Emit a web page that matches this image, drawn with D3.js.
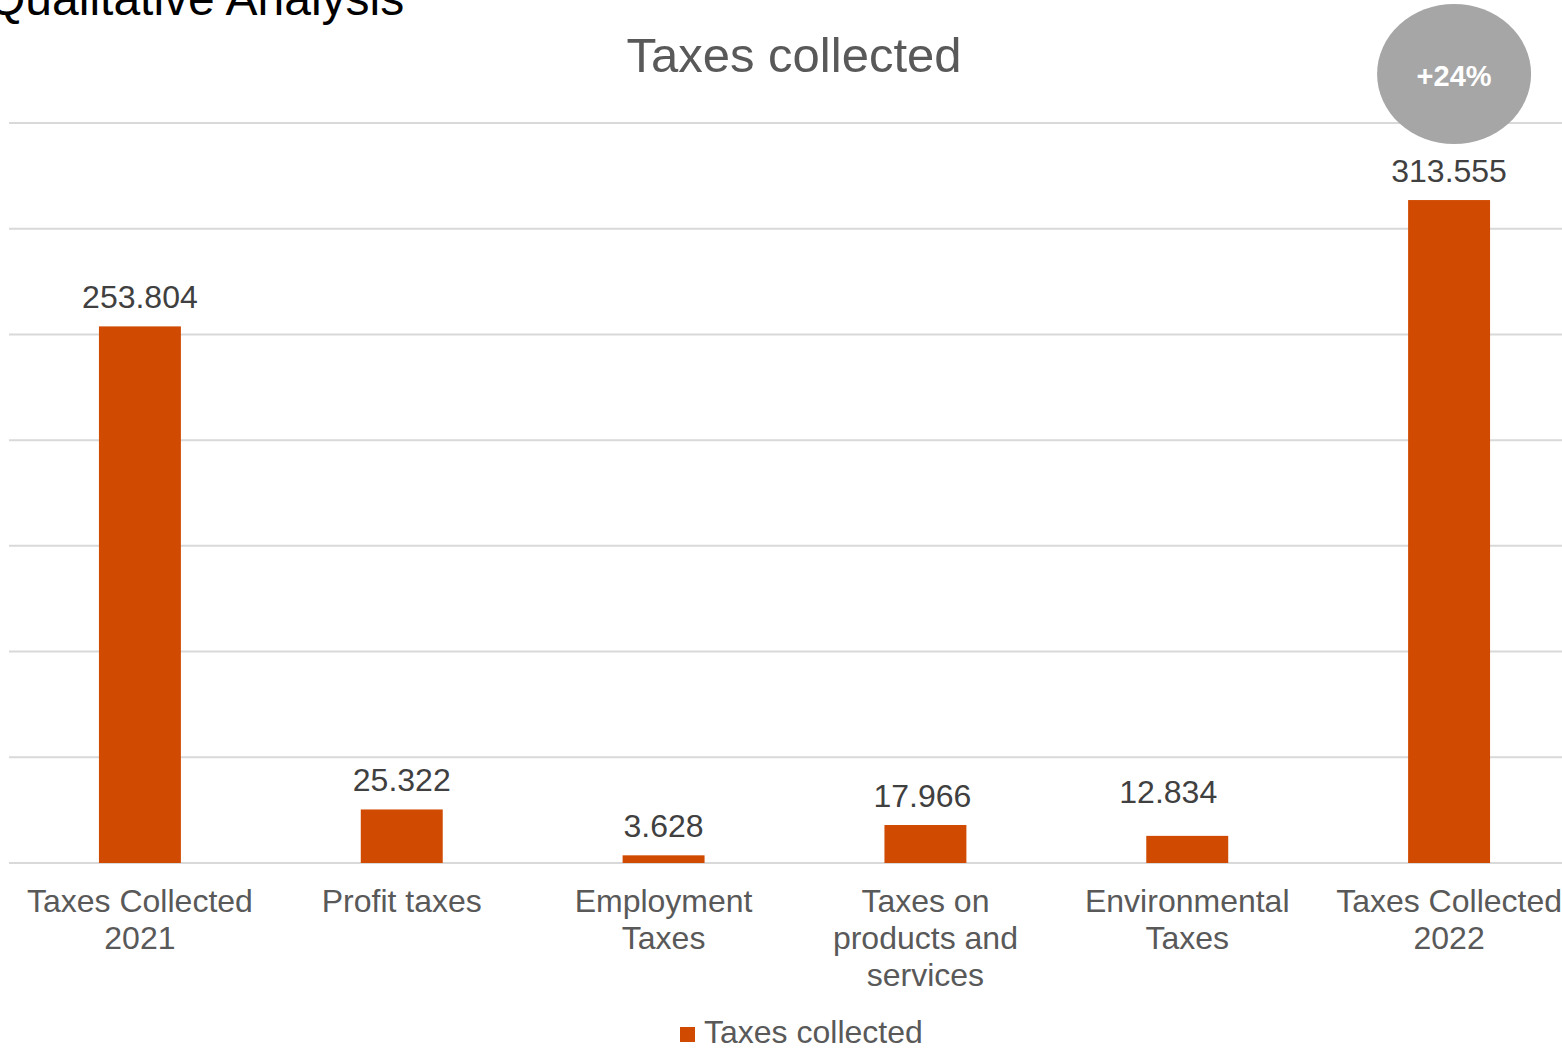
<!DOCTYPE html>
<html>
<head>
<meta charset="utf-8">
<script src="https://cdn.jsdelivr.net/npm/d3@7"></script>
<style>
  html, body { margin: 0; padding: 0; background: #ffffff; overflow: hidden; }
  svg { display: block; font-family: "Liberation Sans", Arial, sans-serif; }
</style>
</head>
<body>
<svg id="chart" width="1562" height="1050"></svg>
<script>
// Tax categories, values (thousands) and wrapped axis labels
const categories = ["Taxes Collected 2021", "Profit taxes", "Employment Taxes",
  "Taxes on products and services", "Environmental Taxes", "Taxes Collected 2022"];
const values = [253.804, 25.322, 3.628, 17.966, 12.834, 313.555];
const tickLabels = [
  ["Taxes Collected", "2021"],
  ["Profit taxes"],
  ["Employment", "Taxes"],
  ["Taxes on", "products and", "services"],
  ["Environmental", "Taxes"],
  ["Taxes Collected", "2022"]
];
const yTicks = [0, 50, 100, 150, 200, 250, 300, 350];
const seriesName = "Taxes collected";
const chartTitle = "Taxes collected";
const pageTitle = "Qualitative Analysis";
const growthBadge = "+24%";

const svg = d3.select("#chart");
const ORANGE = "#d04a02";

const x = d3.scaleBand()
  .domain(categories)
  .range([9, 1580])
  .paddingInner(0.687)
  .paddingOuter(0.3435);

const y = d3.scaleLinear()
  .domain([0, 350])
  .range([863, 123]);

// Page heading, partly clipped at the top edge
svg.append("text")
  .attr("x", -12).attr("y", 15)
  .attr("font-size", 48).attr("fill", "#000")
  .text(pageTitle);

// Chart title
svg.append("text")
  .attr("x", 794).attr("y", 72)
  .attr("text-anchor", "middle")
  .attr("font-size", 49).attr("fill", "#595959")
  .text(chartTitle);

// Horizontal gridlines
svg.append("g").selectAll("line")
  .data(yTicks)
  .join("line")
  .attr("x1", 9).attr("x2", 1580)
  .attr("y1", d => y(d)).attr("y2", d => y(d))
  .attr("stroke", "#d9d9d9").attr("stroke-width", 2);

// Bars
svg.append("g").selectAll("rect")
  .data(values)
  .join("rect")
  .attr("x", (d, i) => x(categories[i]))
  .attr("width", x.bandwidth())
  .attr("y", d => y(d))
  .attr("height", d => y(0) - y(d))
  .attr("fill", ORANGE);

// Value labels (the Environmental Taxes label sits a little up and to the left)
const nudge = i => (i === 4 ? [-19, -15] : i === 3 ? [-3, 0] : [0, 0]);
svg.append("g").selectAll("text")
  .data(values)
  .join("text")
  .attr("x", (d, i) => x(categories[i]) + x.bandwidth() / 2 + nudge(i)[0])
  .attr("y", (d, i) => y(d) - 18 + nudge(i)[1])
  .attr("text-anchor", "middle")
  .attr("font-size", 32).attr("fill", "#404040")
  .text(d => d.toFixed(3));

// Category axis labels
const tick = svg.append("g").selectAll("text")
  .data(categories)
  .join("text")
  .attr("text-anchor", "middle")
  .attr("font-size", 32).attr("fill", "#595959")
  .attr("x", d => x(d) + x.bandwidth() / 2)
  .attr("y", 912);
tick.selectAll("tspan")
  .data((d, i) => tickLabels[i].map(t => ({ t, cx: x(d) + x.bandwidth() / 2 })))
  .join("tspan")
  .attr("x", d => d.cx)
  .attr("dy", (d, j) => (j === 0 ? 0 : 37))
  .text(d => d.t);

// Growth badge over the 2022 total
const badgeX = x(categories[5]) + x.bandwidth() / 2 + 5;
svg.append("ellipse")
  .attr("cx", badgeX).attr("cy", 74)
  .attr("rx", 77).attr("ry", 70)
  .attr("fill", "#a6a6a6");
svg.append("text")
  .attr("x", badgeX).attr("y", 86)
  .attr("text-anchor", "middle")
  .attr("font-size", 29).attr("font-weight", "bold").attr("fill", "#ffffff")
  .text(growthBadge);

// Legend
const legend = svg.append("g");
legend.append("rect")
  .attr("x", 680).attr("y", 1027)
  .attr("width", 15).attr("height", 15)
  .attr("fill", ORANGE);
legend.append("text")
  .attr("x", 704).attr("y", 1043)
  .attr("font-size", 32).attr("fill", "#595959")
  .text(seriesName);
</script>
</body>
</html>
